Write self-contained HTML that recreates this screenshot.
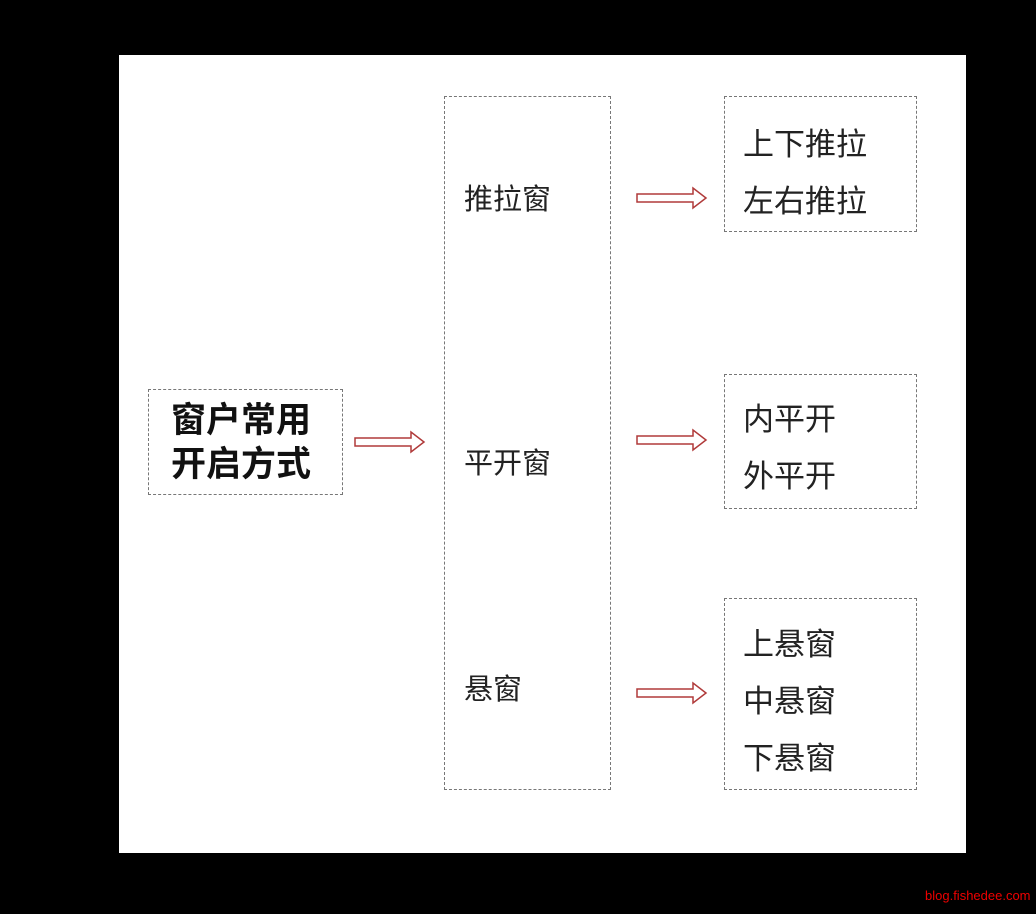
<!DOCTYPE html>
<html><head><meta charset="utf-8"><style>
body{margin:0;width:1036px;height:914px;background:#000;position:relative;overflow:hidden;font-family:"Liberation Sans","Noto Sans CJK SC",sans-serif;}
.p{position:absolute;left:119px;top:55px;width:847px;height:798px;background:#fff;}
.b{position:absolute;border:1.5px dashed #777;box-sizing:border-box;}
.t{position:absolute;color:#222;white-space:nowrap;}
.wm{position:absolute;left:925px;top:888px;color:#e00;font-size:13px;}
svg{position:absolute;left:0;top:0;}
</style></head><body>
<div class="p"></div>
<div class="b" style="left:148px;top:389px;width:195px;height:106px"></div>
<div class="t" style="left:171px;top:399px;font-size:35px;font-weight:bold;line-height:44px;color:#111">窗户常用<br>开启方式</div>
<div class="b" style="left:444px;top:96px;width:167px;height:694px"></div>
<div class="t" style="left:464px;top:176px;font-size:29px">推拉窗</div>
<div class="t" style="left:464px;top:440px;font-size:29px">平开窗</div>
<div class="t" style="left:464px;top:666px;font-size:29px">悬窗</div>
<div class="b" style="left:724px;top:96px;width:193px;height:136px"></div>
<div class="t" style="left:743px;top:116px;font-size:31px;line-height:57px">上下推拉<br>左右推拉</div>
<div class="b" style="left:724px;top:374px;width:193px;height:135px"></div>
<div class="t" style="left:743px;top:391px;font-size:31px;line-height:57px">内平开<br>外平开</div>
<div class="b" style="left:724px;top:598px;width:193px;height:192px"></div>
<div class="t" style="left:743px;top:616px;font-size:31px;line-height:57px">上悬窗<br>中悬窗<br>下悬窗</div>
<svg width="1036" height="914">
<g fill="none" stroke="#b03a3a" stroke-width="1.5">
<path d="M355 438h56v-6l13 10-13 10v-6h-56z"/>
<path d="M637 194h56v-6l13 10-13 10v-6h-56z"/>
<path d="M637 436h56v-6l13 10-13 10v-6h-56z"/>
<path d="M637 689h56v-6l13 10-13 10v-6h-56z"/>
</g></svg>
<div class="wm">blog.fishedee.com</div>
</body></html>
